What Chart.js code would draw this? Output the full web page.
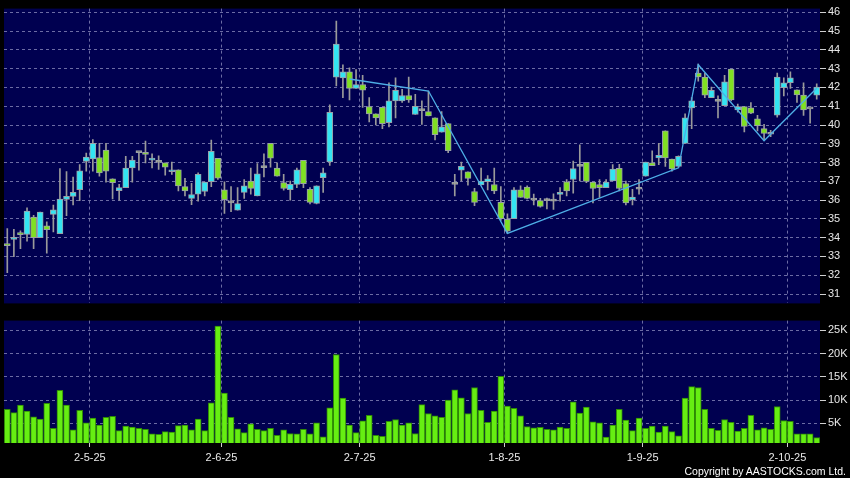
<!DOCTYPE html>
<html><head><meta charset="utf-8">
<script src="https://cdn.jsdelivr.net/npm/chart.js@4.4.1/dist/chart.umd.min.js"></script>
<style>
html,body{margin:0;padding:0;background:#000;width:850px;height:478px;overflow:hidden;}
#wrap{position:relative;width:850px;height:478px;background:#000;}
canvas{position:absolute;left:0;}
#priceCanvas{top:0;}
#volCanvas{top:312px;}
#copy{position:absolute;right:4px;top:464px;font:10.5px "Liberation Sans",Arial,sans-serif;color:#fff;line-height:14px;letter-spacing:0px;white-space:nowrap;}
</style></head>
<body><div id="wrap">
<canvas id="priceCanvas" width="850" height="312"></canvas>
<canvas id="volCanvas" width="850" height="166"></canvas>
<div id="copy">Copyright by AASTOCKS.com Ltd.</div>
</div>
<script>
const opens = [33.69,33.91,34.26,34.17,35.10,34.00,34.63,35.24,34.21,36.04,
36.20,36.56,38.06,38.19,38.27,38.66,37.14,36.51,36.67,37.71,
38.53,38.55,38.13,38.01,37.98,37.51,37.61,36.72,36.09,36.32,
36.46,36.98,38.22,36.55,35.85,35.46,36.41,37.02,36.23,37.73,
39.02,37.71,36.93,36.56,36.84,38.12,36.58,35.83,37.19,38.03,
42.55,42.51,42.83,41.95,42.16,40.98,40.59,40.94,40.12,41.29,
41.29,41.57,40.56,40.77,40.71,40.38,39.62,40.07,36.84,37.59,
37.51,36.46,36.81,36.98,36.83,35.88,34.98,35.01,36.55,36.70,
36.00,35.97,35.97,35.95,36.30,36.98,37.10,37.80,38.01,36.96,
36.83,36.67,37.02,37.69,36.88,36.02,36.58,37.28,37.98,38.25,
39.69,38.19,37.80,39.02,40.91,42.77,42.55,41.46,41.26,41.03,
42.98,40.80,40.98,40.91,40.33,39.81,39.51,40.52,41.99,42.25,
41.88,41.60,40.86,41.59];
const highs = [34.49,34.44,34.37,35.59,35.19,35.36,34.84,35.74,37.68,37.52,
37.23,37.89,38.50,39.23,39.02,39.02,37.14,36.84,38.33,38.33,
38.53,39.14,38.46,38.36,37.98,38.03,37.61,37.16,36.90,37.45,
36.96,39.20,38.22,36.98,36.72,36.67,37.10,37.71,37.94,38.46,
39.02,37.98,37.37,37.02,37.71,38.12,36.67,36.76,37.71,41.08,
45.53,43.21,43.04,42.95,42.65,41.46,40.59,40.94,42.25,42.51,
41.90,42.55,41.64,41.29,41.81,40.38,40.71,40.07,37.37,38.03,
37.51,36.63,37.71,37.31,37.71,36.72,35.27,36.67,36.76,36.76,
36.32,36.09,36.11,36.34,36.67,37.10,38.08,38.94,38.01,36.96,
37.10,37.10,37.89,37.91,37.02,36.58,37.10,38.03,38.62,39.02,
39.69,38.19,38.36,40.59,41.46,43.24,42.77,42.02,41.55,42.65,
42.98,41.12,40.98,41.20,40.51,40.03,39.72,42.77,42.51,42.83,
41.88,42.25,40.86,42.20];
const lows = [32.13,32.99,33.41,33.82,33.41,34.00,33.18,34.31,34.21,35.17,
35.74,35.97,37.54,37.54,37.28,36.96,36.06,36.00,36.67,36.96,
37.59,37.98,37.71,37.63,37.33,37.37,36.49,36.23,35.76,35.94,
36.23,36.72,37.10,35.29,35.39,35.46,36.09,36.32,36.23,37.23,
37.75,37.28,36.53,36.00,36.67,36.67,35.80,35.80,36.41,37.85,
42.08,41.46,41.34,41.95,40.94,40.16,40.00,39.81,39.90,40.38,
41.20,41.20,40.56,40.03,40.49,39.20,39.62,38.53,36.23,37.02,
36.79,35.71,36.81,36.55,36.35,34.92,34.23,35.01,36.14,36.06,
35.74,35.62,35.53,35.50,35.94,36.23,36.37,37.02,36.93,35.85,
36.14,36.67,37.02,36.49,35.74,35.74,36.32,37.28,37.84,37.89,
37.80,37.54,37.75,39.02,39.81,42.34,41.46,41.46,40.38,41.03,
41.29,40.68,39.63,40.60,39.69,39.20,39.38,40.42,41.55,41.95,
41.20,40.51,40.10,41.38];
const closes = [33.58,34.02,34.16,35.41,34.00,35.36,34.42,35.48,36.06,36.20,
36.42,37.56,38.29,39.02,37.45,37.54,36.93,36.67,37.71,38.13,
38.53,38.43,38.24,38.01,37.75,37.61,36.76,36.49,36.30,37.37,
36.96,38.60,37.17,36.02,35.85,35.81,36.76,36.63,37.40,37.73,
38.24,37.28,36.62,36.84,37.61,36.88,35.88,36.76,37.45,40.68,
44.31,42.83,41.95,42.16,41.85,40.59,40.38,40.07,41.29,41.85,
41.57,41.33,40.99,40.77,40.49,39.49,39.91,38.64,36.84,37.80,
37.16,35.88,37.02,37.14,36.49,35.01,34.35,36.55,36.14,36.09,
36.00,35.67,35.97,35.95,36.42,36.49,37.68,37.80,37.00,36.62,
36.67,36.96,37.66,36.62,35.85,36.16,36.58,38.03,37.84,38.39,
38.25,37.66,38.33,40.38,41.29,42.56,41.59,41.85,41.26,42.30,
41.33,40.98,39.93,40.63,39.96,39.55,39.51,42.55,42.25,42.51,
41.60,40.80,40.86,42.02];
const volumes = [8000,7300,8900,7600,6400,5900,9300,3900,12100,8900,
3600,7800,5100,6100,4600,6300,6500,3400,4400,4200,
3900,3700,2700,2600,3200,3100,4500,4600,3600,5900,
3400,9400,25900,11500,6300,3800,3000,4900,3700,3400,
3900,2400,3600,2800,2700,3700,2700,5100,2100,8300,
19800,10400,4600,3000,5500,6700,2400,2200,5400,5800,
4600,5100,2800,9000,7100,6600,6300,10000,12200,10500,
7100,12700,7800,5200,7600,15100,8700,8200,6600,4300,
4000,4100,3700,3600,4200,3900,9600,7200,8500,5300,
5100,2000,4600,8000,5700,3400,6100,3900,4400,3100,
4400,3200,2300,10400,12900,12700,8000,3900,3500,5800,
5200,3300,3900,6700,3600,4000,3700,8600,5600,5400,
2700,2700,2700,1900];
// zigzag trend line: bar index -> price
const zigzagIndex = [52,64,76,102,105,115,123];
const zigzagValue = [42.45,41.81,34.23,37.72,43.21,39.16,41.96];
// date ticks: bar index -> label
const dateTickIndex = [13,33,54,76,97,119];
const dateTickLabel = ['2-5-25','2-6-25','2-7-25','1-8-25','1-9-25','2-10-25'];
const priceTicks = [31,32,33,34,35,36,37,38,39,40,41,42,43,44,45,46];
const volumeTicks = [5000,10000,15000,20000,25000];

const categories = opens.map((_, i) => i);
const wickData = categories.map(i => [lows[i], highs[i]]);
const bodyData = categories.map(i => [opens[i], closes[i]]);
const UP = '#33e4f2', DOWN = '#80e022', FLAT = '#a8a890';
const bodyColors = categories.map(i => closes[i] > opens[i] ? UP : (closes[i] < opens[i] ? DOWN : FLAT));
const zigzagData = categories.map(i => { const k = zigzagIndex.indexOf(i); return k >= 0 ? zigzagValue[k] : null; });

const GRID = 'rgba(135,135,185,0.8)';
const TXT = '#e8e8e8';
Chart.defaults.font.family = '"Liberation Sans", Arial, sans-serif';
Chart.defaults.font.size = 11;
Chart.defaults.color = TXT;
Chart.defaults.animation = false;

const bgPlugin = {
  id: 'bg',
  beforeDraw(chart) {
    const {ctx, chartArea: a} = chart;
    ctx.save();
    ctx.fillStyle = '#000';
    ctx.fillRect(0, 0, chart.width, chart.height);
    ctx.fillStyle = '#000050';
    ctx.fillRect(a.left, a.top, a.right - a.left, a.bottom - a.top);
    ctx.restore();
  }
};
const xGridColor = ctx => dateTickIndex.includes(ctx.index) ? GRID : 'rgba(0,0,0,0)';

new Chart(document.getElementById('priceCanvas'), {
  type: 'bar',
  data: {
    labels: categories,
    datasets: [
      { type: 'line', data: zigzagData, borderColor: '#4eaee6', borderWidth: 1.3, pointRadius: 0, spanGaps: true, order: 0 },
      { data: bodyData, backgroundColor: bodyColors, borderColor: '#9aa0a8', borderWidth: 1, borderSkipped: false, barThickness: 6, minBarLength: 2, grouped: false, order: 1 },
      { data: wickData, backgroundColor: '#9a9a9a', borderWidth: 0, barThickness: 1, grouped: false, order: 2 }
    ]
  },
  options: {
    responsive: false,
    layout: { padding: { left: 4, top: 6, right: 0, bottom: 0 } },
    plugins: { legend: { display: false }, tooltip: { enabled: false } },
    scales: {
      x: {
        offset: true,
        grid: { offset: true, color: xGridColor, drawTicks: false },
        border: { display: false, dash: [3, 3] },
        ticks: { display: false },
        afterFit: s => { s.height = 6; }
      },
      y: {
        position: 'right',
        min: 30.5, max: 46.2,
        afterBuildTicks: s => { s.ticks = priceTicks.map(v => ({ value: v })); },
        grid: { color: GRID, tickColor: '#cfcfcf', tickLength: 6, drawTicks: true },
        border: { display: false, dash: [3, 3] },
        ticks: { padding: 2, color: TXT, font: { size: 11 } },
        afterFit: s => { s.width = 30; }
      }
    }
  },
  plugins: [bgPlugin]
});

new Chart(document.getElementById('volCanvas'), {
  type: 'bar',
  data: {
    labels: categories,
    datasets: [
      { data: volumes, backgroundColor: '#66ee12', borderColor: '#2f8a06', borderWidth: 1, borderSkipped: false, barThickness: 6 }
    ]
  },
  options: {
    responsive: false,
    layout: { padding: { left: 4, top: 7, right: 0, bottom: 0 } },
    plugins: { legend: { display: false }, tooltip: { enabled: false } },
    scales: {
      x: {
        offset: true,
        grid: { offset: true, color: xGridColor, tickColor: ctx => dateTickIndex.includes(ctx.index) ? '#cfcfcf' : 'rgba(0,0,0,0)', tickLength: 4, drawTicks: true },
        border: { display: false, dash: [3, 3] },
        ticks: {
          autoSkip: false, maxRotation: 0, minRotation: 0, padding: 4, labelOffset: -3, color: TXT, font: { size: 11 },
          callback: (v, i) => { const k = dateTickIndex.indexOf(i); return k >= 0 ? dateTickLabel[k] : ''; }
        },
        afterFit: s => { s.height = 35; }
      },
      y: {
        position: 'right',
        min: 750, max: 27100,
        afterBuildTicks: s => { s.ticks = volumeTicks.map(v => ({ value: v })); },
        grid: { color: GRID, tickColor: '#cfcfcf', tickLength: 6, drawTicks: true },
        border: { display: false, dash: [3, 3] },
        ticks: { padding: 2, color: TXT, font: { size: 11 }, callback: v => (v / 1000) + 'K' },
        afterFit: s => { s.width = 30; }
      }
    }
  },
  plugins: [bgPlugin]
});
</script>
</body></html>
